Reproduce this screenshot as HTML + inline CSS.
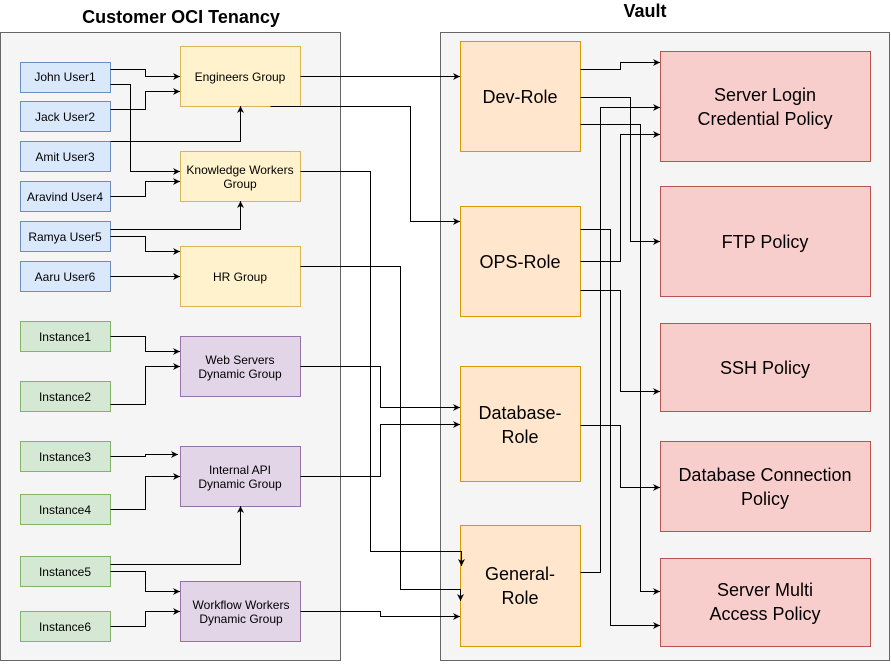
<!DOCTYPE html>
<html><head><style>
body{margin:0;background:#fff;}
svg text{font-family:"Liberation Sans",sans-serif;}
</style></head><body>
<svg width="891" height="662" viewBox="0 0 891 662" xmlns="http://www.w3.org/2000/svg">
<defs><marker id="a" markerWidth="8" markerHeight="8" refX="7" refY="4" orient="auto" markerUnits="userSpaceOnUse"><path d="M0,0.5 L7,4 L0,7.5 L2,4 z" fill="#000"/></marker></defs>
<rect x="0.5" y="32.5" width="340" height="628" fill="#f5f5f5" stroke="#666"/>
<rect x="440.5" y="32.5" width="449" height="628" fill="#f5f5f5" stroke="#666"/>
<text x="181" y="23" font-size="18" font-weight="bold" text-anchor="middle">Customer OCI Tenancy</text>
<text x="645" y="17" font-size="18" font-weight="bold" text-anchor="middle">Vault</text>
<g font-size="12" text-anchor="middle">
<g fill="#dae8fc" stroke="#6c8ebf">
<rect x="20.5" y="62.5" width="90" height="30"/><rect x="20.5" y="101.5" width="90" height="30"/><rect x="20.5" y="141.5" width="90" height="30"/><rect x="20.5" y="181.5" width="90" height="30"/><rect x="20.5" y="221.5" width="90" height="30"/><rect x="20.5" y="261.5" width="90" height="30"/></g>
<text x="65" y="81">John User1</text><text x="65" y="121">Jack User2</text><text x="65" y="161">Amit User3</text><text x="65" y="201">Aravind User4</text><text x="65" y="241">Ramya User5</text><text x="65" y="281">Aaru User6</text>
<g fill="#d5e8d4" stroke="#82b366">
<rect x="20.5" y="321.5" width="90" height="30"/><rect x="20.5" y="381.5" width="90" height="30"/><rect x="20.5" y="441.5" width="90" height="30"/><rect x="20.5" y="494.5" width="90" height="30"/><rect x="20.5" y="556.5" width="90" height="30"/><rect x="20.5" y="611.5" width="90" height="30"/></g>
<text x="65" y="341">Instance1</text><text x="65" y="401">Instance2</text><text x="65" y="461">Instance3</text><text x="65" y="514">Instance4</text><text x="65" y="576">Instance5</text><text x="65" y="631">Instance6</text>
<g fill="#fff2cc" stroke="#d6b656">
<rect x="180.5" y="46.5" width="120" height="60"/><rect x="180.5" y="151.5" width="120" height="50"/><rect x="180.5" y="246.5" width="120" height="60"/></g>
<text x="240" y="81">Engineers Group</text><text x="240" y="174">Knowledge Workers</text><text x="240" y="188">Group</text><text x="240" y="281">HR Group</text>
<g fill="#e1d5e7" stroke="#9673a6">
<rect x="180.5" y="336.5" width="120" height="60"/><rect x="180.5" y="446.5" width="120" height="60"/><rect x="180.5" y="581.5" width="120" height="60"/></g>
<text x="240" y="364">Web Servers</text><text x="240" y="378">Dynamic Group</text>
<text x="240" y="474">Internal API</text><text x="240" y="488">Dynamic Group</text>
<text x="241" y="609">Workflow Workers</text><text x="241" y="623">Dynamic Group</text>
</g>
<g font-size="18" text-anchor="middle">
<g fill="#ffe6cc" stroke="#d79b00">
<rect x="460.5" y="41.5" width="120" height="110"/><rect x="460.5" y="206.5" width="120" height="110"/><rect x="460.5" y="366.5" width="120" height="115"/><rect x="460.5" y="525.5" width="120" height="121"/></g>
<text x="520" y="103">Dev-Role</text><text x="520" y="268">OPS-Role</text>
<text x="520" y="419">Database-</text><text x="520" y="443">Role</text>
<text x="520" y="580">General-</text><text x="520" y="604">Role</text>
<g fill="#f8cecc" stroke="#b85450">
<rect x="660.5" y="51.5" width="210" height="110"/><rect x="660.5" y="186.5" width="210" height="110"/><rect x="660.5" y="323.5" width="210" height="88"/><rect x="660.5" y="441.5" width="210" height="90"/><rect x="660.5" y="558.5" width="210" height="88"/></g>
<text x="765" y="101">Server Login</text><text x="765" y="125">Credential Policy</text>
<text x="765" y="248">FTP Policy</text><text x="765" y="374">SSH Policy</text>
<text x="765" y="481">Database Connection</text><text x="765" y="505">Policy</text>
<text x="765" y="596">Server Multi</text><text x="765" y="620">Access Policy</text>
</g>
<g fill="none" stroke="#000" stroke-width="1" marker-end="url(#a)">
<path d="M110.5,69.5H145.5V76.5H180"/>
<path d="M110.5,84.5H130.5V171.5H180"/>
<path d="M110.5,109.5H145.5V91.5H180"/>
<path d="M110.5,141.5H240.5V106"/>
<path d="M110.5,196.5H145.5V181.5H180"/>
<path d="M110.5,229.5H240.5V201"/>
<path d="M110.5,236.5H145.5V251.5H180"/>
<path d="M110.5,276.5H180"/>
<path d="M110.5,336.5H145.5V351.5H180"/>
<path d="M110.5,404.5H145.5V366.5H180"/>
<path d="M110.5,456.5H145.5V454.5H178"/>
<path d="M110.5,509.5H145.5V476.5H180"/>
<path d="M110.5,564.5H240.5V506"/>
<path d="M110.5,571.5H145.5V591.5H180"/>
<path d="M110.5,626.5H145.5V611.5H180"/>
<path d="M300.5,76.5H460"/>
<path d="M270.5,106.5H410.5V221.5H460"/>
<path d="M300.5,171.5H370.5V551.5H461.5V566"/>
<path d="M300.5,266.5H400.5V589.5H460.5V601"/>
<path d="M300.5,366.5H380.5V407.5H460"/>
<path d="M300.5,476.5H380.5V424.5H460"/>
<path d="M300.5,611.5H380.5V616.5H460"/>
<path d="M580.5,69.5H620.5V62.5H660"/>
<path d="M580.5,97.5H630.5V241.5H660"/>
<path d="M580.5,124.5H640.5V591.5H660"/>
<path d="M580.5,229.5H610.5V625.5H660"/>
<path d="M580.5,261.5H620.5V134.5H660"/>
<path d="M580.5,290.5H620.5V391.5H660"/>
<path d="M580.5,425.5H620.5V487.5H660"/>
<path d="M580.5,572.5H600.5V107.5H660"/>
</g>
</svg>
</body></html>
